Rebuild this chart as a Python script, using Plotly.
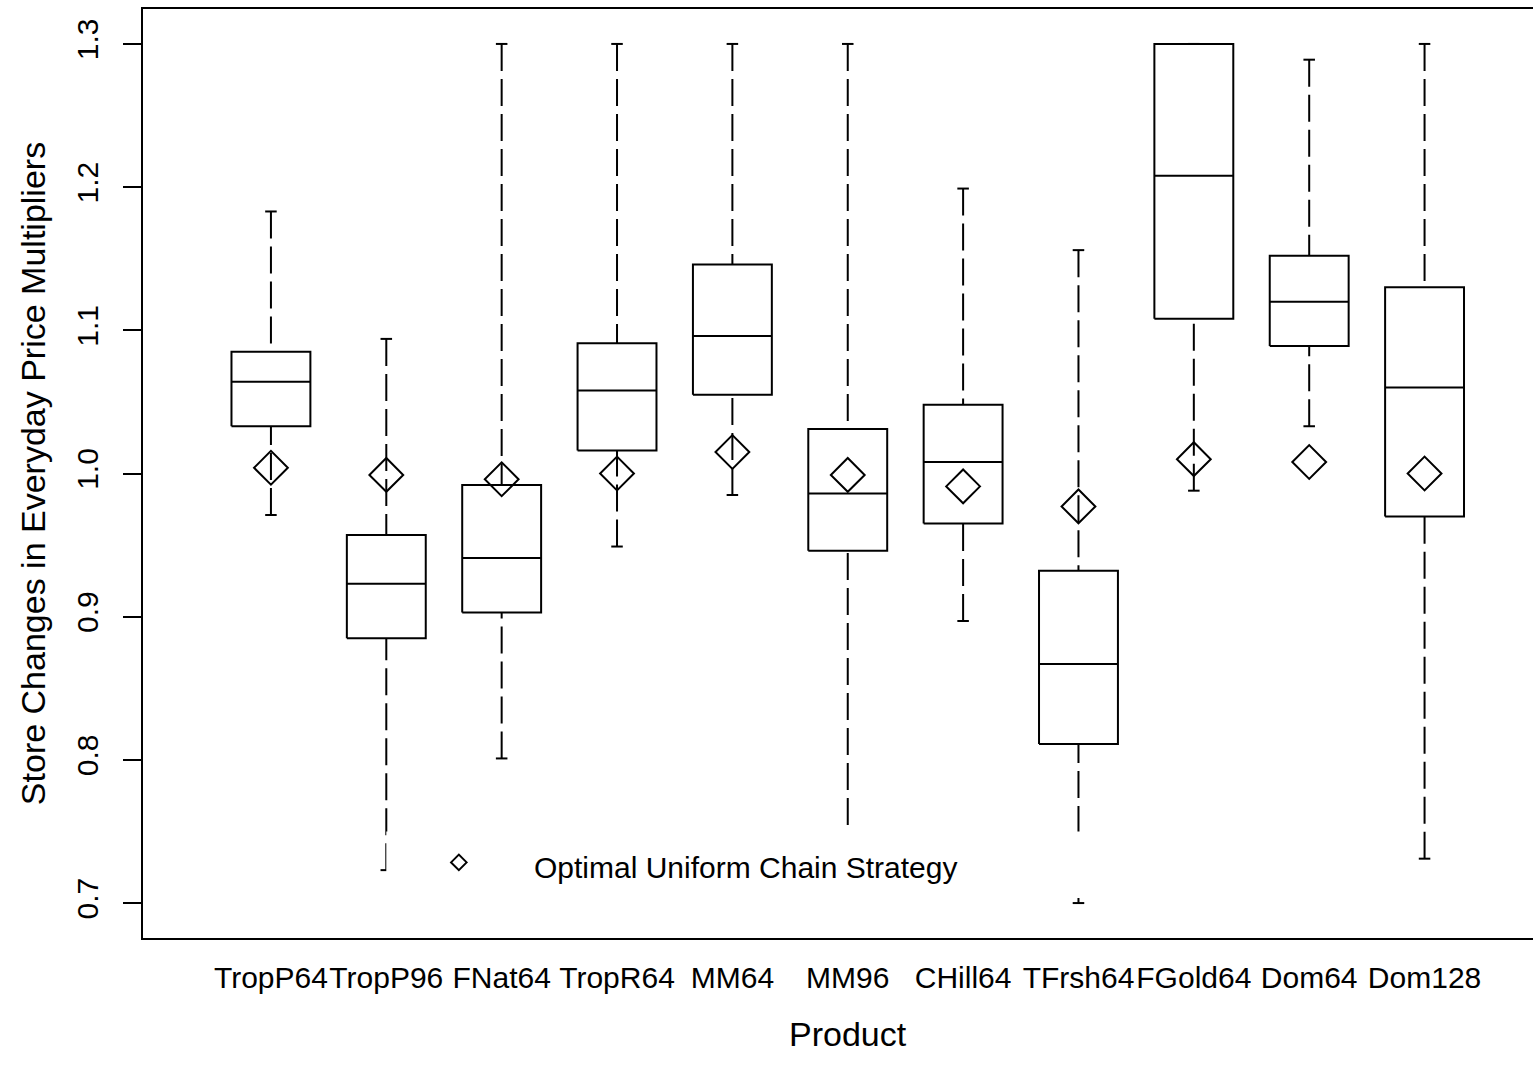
import plotly.graph_objects as go

# Five-number summaries of store-level price multiplier changes per product
products = ["TropP64", "TropP96", "FNat64", "TropR64", "MM64", "MM96",
            "CHill64", "TFrsh64", "FGold64", "Dom64", "Dom128"]
whisker_low = [0.971, 0.723, 0.801, 0.949, 0.985, 0.730, 0.897, 0.700, 0.988, 1.033, 0.731]
quartile_1 = [1.033, 0.885, 0.903, 1.016, 1.055, 0.946, 0.965, 0.811, 1.108, 1.089, 0.970]
medians = [1.064, 0.923, 0.941, 1.058, 1.096, 0.986, 1.008, 0.867, 1.208, 1.120, 1.060]
quartile_3 = [1.085, 0.957, 0.992, 1.091, 1.146, 1.031, 1.048, 0.932, 1.300, 1.152, 1.130]
whisker_high = [1.183, 1.094, 1.300, 1.300, 1.300, 1.300, 1.199, 1.156, 1.300, 1.289, 1.300]
# Optimal uniform chain strategy multiplier per product
optimal = [1.004, 0.999, 0.996, 1.000, 1.015, 0.999, 0.991, 0.977, 1.010, 1.008, 1.000]

y_ticks = [0.7, 0.8, 0.9, 1.0, 1.1, 1.2, 1.3]
y_tick_labels = ["0.7", "0.8", "0.9", "1.0", "1.1", "1.2", "1.3"]

BOX_HALF = 0.342
CAP_HALF = 0.05
LW = 2
FONT = "Liberation Sans, Arial, Helvetica, sans-serif"
AXIS_FONT = 30
LABEL_FONT = 34

W, H = 1533, 1077
M_L, M_R, M_T, M_B = 143, 0, 9, 139

positions = list(range(1, len(products) + 1))

fig = go.Figure()

# Whiskers: dashed from each extreme back to the box edge
wx, wy = [], []
for p, lo, a, b, hi in zip(positions, whisker_low, quartile_1, quartile_3, whisker_high):
    wx += [p, p, None, p, p, None]
    wy += [lo, a, None, hi, b, None]
fig.add_trace(go.Scatter(x=wx, y=wy, mode="lines", hoverinfo="skip",
                         line=dict(color="black", width=LW, dash="27px,8px"),
                         showlegend=False))

# Whisker staples
cx, cy = [], []
for p, lo, hi in zip(positions, whisker_low, whisker_high):
    cx += [p - CAP_HALF, p + CAP_HALF, None, p - CAP_HALF, p + CAP_HALF, None]
    cy += [lo, lo, None, hi, hi, None]
fig.add_trace(go.Scatter(x=cx, y=cy, mode="lines", hoverinfo="skip",
                         line=dict(color="black", width=LW), showlegend=False))

# Boxes (white filled) and median lines
for p, a, m, b in zip(positions, quartile_1, medians, quartile_3):
    fig.add_trace(go.Scatter(
        x=[p - BOX_HALF, p + BOX_HALF, p + BOX_HALF, p - BOX_HALF, p - BOX_HALF],
        y=[a, a, b, b, a], mode="lines", fill="toself", fillcolor="white",
        line=dict(color="black", width=LW), hoverinfo="skip", showlegend=False))
    fig.add_trace(go.Scatter(x=[p - BOX_HALF, p + BOX_HALF], y=[m, m], mode="lines",
                             line=dict(color="black", width=LW), hoverinfo="skip",
                             showlegend=False))

# Legend panel (white background drawn over the plot)
LEG_X0, LEG_X1, LEG_Y0, LEG_Y1 = 2.0, 8.5, 0.7035, 0.750
fig.add_trace(go.Scatter(x=[LEG_X0, LEG_X1, LEG_X1, LEG_X0, LEG_X0],
                         y=[LEG_Y0, LEG_Y0, LEG_Y1, LEG_Y1, LEG_Y0],
                         mode="lines", fill="toself", fillcolor="white",
                         line=dict(width=0, color="white"), hoverinfo="skip",
                         showlegend=False))

# Optimal strategy markers
fig.add_trace(go.Scatter(x=positions, y=optimal, mode="markers",
                         marker=dict(symbol="diamond-open", size=26, color="black",
                                     line=dict(width=LW, color="black")),
                         name="Optimal Uniform Chain Strategy", showlegend=False))

# Legend key symbol and label
fig.add_trace(go.Scatter(x=[2.629], y=[0.7284], mode="markers", hoverinfo="skip",
                         marker=dict(symbol="diamond-open", size=12, color="black",
                                     line=dict(width=LW, color="black")),
                         showlegend=False))
fig.add_annotation(x=3.262, y=0.7251, xref="x", yref="y", xanchor="left", yanchor="middle",
                   text="Optimal Uniform Chain Strategy", showarrow=False,
                   font=dict(family=FONT, size=AXIS_FONT, color="black"))

# X axis title, centred on the plotting region below the category labels
plot_h = H - M_T - M_B
fig.add_annotation(x=6.0, y=(H - M_B - 1034) / plot_h, xref="x", yref="paper",
                   xanchor="center", yanchor="middle", showarrow=False,
                   text="Product", font=dict(family=FONT, size=LABEL_FONT, color="black"))

fig.update_layout(
    width=W, height=H,
    margin=dict(l=M_L, r=M_R, t=M_T, b=M_B),
    paper_bgcolor="white", plot_bgcolor="white",
    font=dict(family=FONT, size=AXIS_FONT, color="black"),
    xaxis=dict(range=[-0.109, 11.94], tickmode="array", tickvals=positions,
               ticktext=products, ticks="", tickangle=0, showgrid=False, zeroline=False,
               showline=True, mirror=True, linecolor="black", linewidth=1.5,
               ticklabelstandoff=12, tickfont=dict(family=FONT, size=AXIS_FONT)),
    yaxis=dict(range=[0.6756, 1.3244], tickmode="array", tickvals=y_ticks,
               ticktext=y_tick_labels, ticks="outside", ticklen=18, tickwidth=1.5,
               tickcolor="black", tickangle=-90, showgrid=False, zeroline=False,
               showline=True, linecolor="black", linewidth=1.5,
               ticklabelstandoff=13, tickfont=dict(family=FONT, size=AXIS_FONT),
               title=dict(text="Store Changes in Everyday Price Multipliers",
                          font=dict(family=FONT, size=LABEL_FONT), standoff=15)),
)

fig.write_html("out.html")
